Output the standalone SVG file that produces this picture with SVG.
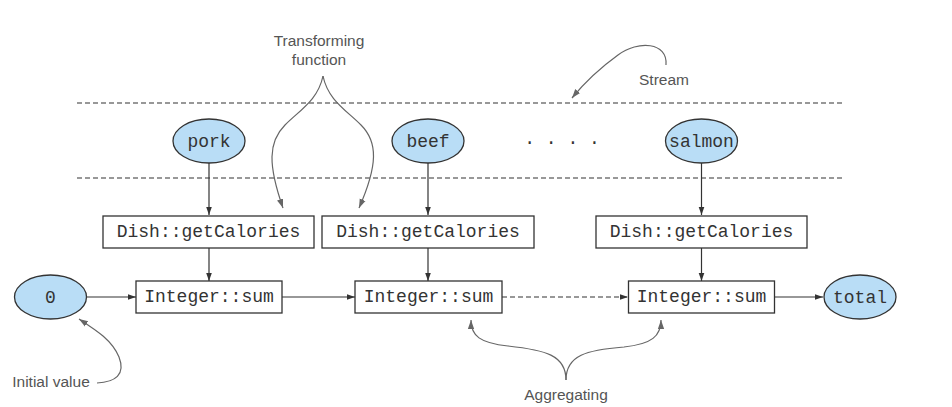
<svg xmlns="http://www.w3.org/2000/svg" width="952" height="407" viewBox="0 0 952 407">
<defs>
<style>
.node{fill:#b9ddf6;stroke:#333;stroke-width:1.3}
.box{fill:#fff;stroke:#333;stroke-width:1.3}
.mono{font-family:"Liberation Mono","Courier New",monospace;font-size:18px;fill:#333;text-anchor:middle}
.lbl{font-family:"Liberation Sans",Arial,sans-serif;font-size:15.5px;fill:#555;text-anchor:middle}
.edge{stroke:#333;stroke-width:1.2;fill:none}
.note{stroke:#666;stroke-width:1.2;fill:none}
.dash{stroke:#333;stroke-width:1.2;stroke-dasharray:5,3;fill:none}
</style>
<marker id="ah" viewBox="0 0 10 10" refX="10" refY="5" markerWidth="8" markerHeight="8" markerUnits="userSpaceOnUse" orient="auto"><path d="M0,1.5L10,5L0,8.5z" fill="#333"/></marker>
<marker id="ahg" viewBox="0 0 10 10" refX="10" refY="5" markerWidth="9" markerHeight="9" markerUnits="userSpaceOnUse" orient="auto"><path d="M0,1.5L10,5L0,8.5z" fill="#666"/></marker>
</defs>
<rect width="952" height="407" fill="#fff"/>
<g id="stream-bounds">
<line class="dash" x1="77" y1="103" x2="843" y2="103"/>
<line class="dash" x1="77" y1="178" x2="843" y2="178"/>
</g>
<g id="connectors">
<line class="edge" x1="209" y1="163" x2="209" y2="215" marker-end="url(#ah)"/>
<line class="edge" x1="428" y1="163" x2="428" y2="215" marker-end="url(#ah)"/>
<line class="edge" x1="701.5" y1="163" x2="701.5" y2="215" marker-end="url(#ah)"/>
<line class="edge" x1="209" y1="248" x2="209" y2="281" marker-end="url(#ah)"/>
<line class="edge" x1="428" y1="248" x2="428" y2="281" marker-end="url(#ah)"/>
<line class="edge" x1="701.5" y1="248" x2="701.5" y2="281" marker-end="url(#ah)"/>
<line class="edge" x1="87" y1="297" x2="136" y2="297" marker-end="url(#ah)"/>
<line class="edge" x1="282" y1="297" x2="355" y2="297" marker-end="url(#ah)"/>
<line class="dash" x1="502" y1="297" x2="628" y2="297" marker-end="url(#ah)"/>
<line class="edge" x1="774" y1="297" x2="823" y2="297" marker-end="url(#ah)"/>
</g>
<g id="node-pork"><ellipse class="node" cx="209" cy="141" rx="36" ry="22"/><text class="mono" x="209" y="147">pork</text></g>
<g id="node-beef"><ellipse class="node" cx="428" cy="141" rx="36" ry="22"/><text class="mono" x="428" y="147">beef</text></g>
<g id="node-salmon"><ellipse class="node" cx="701.5" cy="141" rx="36" ry="22"/><text class="mono" x="701.5" y="147">salmon</text></g>
<g id="dots"><text class="mono" x="562" y="144">. . . .</text></g>
<g id="node-dish1"><rect class="box" x="103" y="216" width="211" height="32"/><text class="mono" x="208.5" y="237">Dish::getCalories</text></g>
<g id="node-dish2"><rect class="box" x="322" y="216" width="212" height="32"/><text class="mono" x="428" y="237">Dish::getCalories</text></g>
<g id="node-dish3"><rect class="box" x="596" y="216" width="211" height="32"/><text class="mono" x="701.5" y="237">Dish::getCalories</text></g>
<g id="node-zero"><ellipse class="node" cx="50.5" cy="297" rx="36" ry="22"/><text class="mono" x="50.5" y="303">0</text></g>
<g id="node-sum1"><rect class="box" x="136" y="281" width="146" height="32"/><text class="mono" x="209" y="302">Integer::sum</text></g>
<g id="node-sum2"><rect class="box" x="355" y="281" width="147" height="32"/><text class="mono" x="428.5" y="302">Integer::sum</text></g>
<g id="node-sum3"><rect class="box" x="628.5" y="281" width="146" height="32"/><text class="mono" x="701.5" y="302">Integer::sum</text></g>
<g id="node-total"><ellipse class="node" cx="860" cy="297" rx="36" ry="22"/><text class="mono" x="860" y="303">total</text></g>
<g id="annotations">
<text class="lbl" x="319" y="46">Transforming</text>
<text class="lbl" x="319" y="65">function</text>
<path class="note" d="M323,76 C318,100 300,110 285,125 C268,142 268,165 283,208" marker-end="url(#ahg)"/>
<path class="note" d="M323,76 C328,100 346,110 361,125 C378,142 378,165 359,208" marker-end="url(#ahg)"/>
<text class="lbl" x="664" y="85">Stream</text>
<path class="note" d="M666,65 C668,42 638,40 618,55 C600,68 585,82 572,98" marker-end="url(#ahg)"/>
<text class="lbl" x="51" y="387">Initial value</text>
<path class="note" d="M97,383 C115,382 126,375 119,357 C112,340 96,330 79,319" marker-end="url(#ahg)"/>
<text class="lbl" x="566" y="400">Aggregating</text>
<path class="note" d="M566,380 C566,355 545,350 508,346 C480,343 471,336 471,320" marker-end="url(#ahg)"/>
<path class="note" d="M566,380 C566,355 587,350 624,347 C652,344 661,336 661,320" marker-end="url(#ahg)"/>
</g>
</svg>
